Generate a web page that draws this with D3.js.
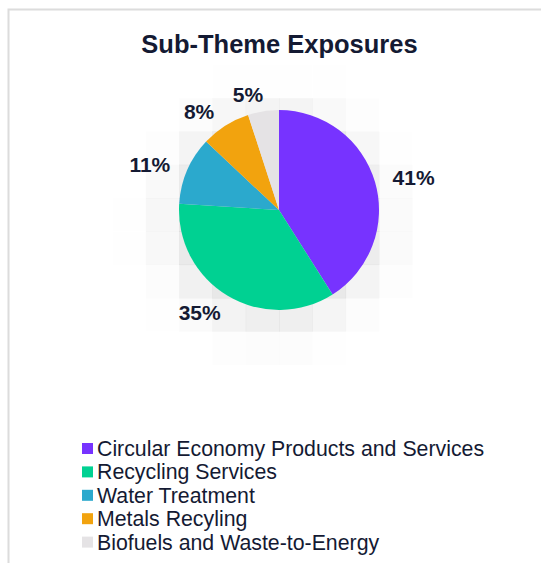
<!DOCTYPE html>
<html>
<head>
<meta charset="utf-8">
<script src="https://cdn.jsdelivr.net/npm/d3@7"></script>
<style>
  html, body { margin: 0; padding: 0; background: #fff; }
  svg { display: block; font-family: "Liberation Sans", Arial, sans-serif; }
</style>
</head>
<body>
<svg id="chart" width="541" height="563"></svg>
<script>
// data
var categories = ['Circular Economy Products and Services', 'Recycling Services', 'Water Treatment', 'Metals Recyling', 'Biofuels and Waste-to-Energy'];
var shares = [41, 35, 11, 8, 5];
var colors = ['#7733ff', '#00d192', '#2ba9cd', '#f2a30e', '#e5e3e5'];

var W = 541, H = 563;
var cx = 279, cy = 210, R = 100;
var textColor = '#141a33';

var svg = d3.select('#chart');

// frame
svg.append('path')
    .attr('d', 'M8.5,' + H + 'V9.5H' + W)
    .attr('fill', 'none')
    .attr('stroke', '#dcdcdc')
    .attr('stroke-width', 2);

svg.append('text')
    .attr('x', 279.5)
    .attr('y', 53)
    .attr('text-anchor', 'middle')
    .attr('font-size', 25.5)
    .attr('font-weight', 'bold')
    .attr('fill', textColor)
    .text('Sub-Theme Exposures');

// blocky soft shadow behind the pie
var cell = 33.3, sx = cx - 4, sy = cy + 10, sigma = 24;
var erf = function(x) {
    var t = 1 / (1 + 0.3275911 * Math.abs(x));
    var y = 1 - (((((1.061405429 * t - 1.453152027) * t) + 1.421413741) * t - 0.284496736) * t + 0.254829592) * t * Math.exp(-x * x);
    return x >= 0 ? y : -y;
};
var cells = [];
for (var i = -5; i < 5; i++) {
    for (var j = -4; j < 5; j++) {
        var x0 = cx + i * cell, y0 = cy - 12 + j * cell;
        var d = Math.hypot(x0 + cell / 2 - sx, y0 + cell / 2 - sy);
        var v = 0.5 * (1 - erf((d - R) / (sigma * Math.SQRT2)));
        if (v > 0.02) cells.push({x: x0, y: y0, v: v});
    }
}
svg.append('g').selectAll('rect')
    .data(cells)
    .enter()
    .append('rect')
        .attr('x', function(c) { return c.x; })
        .attr('y', function(c) { return c.y; })
        .attr('width', cell + 0.5)
        .attr('height', cell + 0.5)
        .attr('fill', '#000')
        .attr('fill-opacity', function(c) { return c.v * 0.11; });

var pie = d3.pie().sort(null).value(function(d) { return d; });
var arcs = pie(shares);
var arc = d3.arc().innerRadius(0).outerRadius(R);

var g = svg.append('g').attr('transform', 'translate(' + cx + ',' + cy + ')');

g.selectAll('path')
    .data(arcs)
    .enter()
    .append('path')
        .attr('d', arc)
        .attr('fill', function(d, i) { return colors[i]; });

// labels: y from the mid angle, x from a circle at that y, anchored toward the pie
var labelR = 118;
g.selectAll('text')
    .data(arcs)
    .enter()
    .append('text')
        .attr('font-size', 21)
        .attr('font-weight', 'bold')
        .attr('fill', textColor)
        .attr('text-anchor', 'middle')
        .attr('dy', '0.35em')
        .text(function(d) { return d.data + '%'; })
        .each(function(d) {
            var a = (d.startAngle + d.endAngle) / 2;
            var w = this.getComputedTextLength();
            var py = -labelR * Math.cos(a) + 1;
            var side = Math.sin(a) >= 0 ? 1 : -1;
            var px = side * Math.sqrt(Math.max(0, labelR * labelR - py * py));
            var s = Math.max(-1, Math.min(1, Math.sin(a) * 3));
            d3.select(this).attr('x', px + (w / 2) * s).attr('y', py);
        });

// legend
var legend = svg.append('g').selectAll('g')
    .data(categories)
    .enter()
    .append('g')
        .attr('transform', function(d, i) { return 'translate(82,' + (448.5 + i * 23.4) + ')'; });

legend.append('rect')
    .attr('x', 0)
    .attr('y', -5.5)
    .attr('width', 11)
    .attr('height', 11)
    .attr('fill', function(d, i) { return colors[i]; });

legend.append('text')
    .attr('x', 15)
    .attr('y', 7.5)
    .attr('font-size', 21.3)
    .attr('fill', textColor)
    .text(function(d) { return d; });
</script>
</body>
</html>
